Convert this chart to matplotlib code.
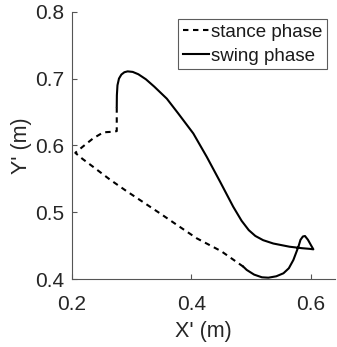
import matplotlib
matplotlib.use('Agg')
import matplotlib.pyplot as plt

plt.rcParams['font.family'] = ['Liberation Sans', 'DejaVu Sans']

# stance phase (dashed)
stance_x = [0.487, 0.450, 0.409, 0.378, 0.3477, 0.320, 0.292, 0.264, 0.236, 0.218,
            0.2060, 0.2120, 0.2195, 0.236, 0.253, 0.268, 0.2753, 0.2753, 0.2753]
stance_y = [0.4188, 0.442, 0.4613, 0.480, 0.4985, 0.515, 0.5316, 0.549, 0.568, 0.580,
            0.5890, 0.5935, 0.599, 0.6108, 0.6197, 0.6205, 0.6215, 0.640, 0.658]

# swing phase (solid)
swing_x = [0.2753, 0.2755, 0.2765, 0.2790, 0.2830, 0.2880, 0.2935, 0.3020, 0.3114, 0.324,
           0.338, 0.359, 0.378, 0.4033, 0.4258, 0.448, 0.470, 0.484, 0.4960, 0.507,
           0.520, 0.537, 0.5642, 0.585, 0.598, 0.604, 0.600, 0.595, 0.590, 0.5865,
           0.5825, 0.579, 0.5706, 0.563, 0.554, 0.542, 0.5288, 0.518, 0.505, 0.4926, 0.487]
swing_y = [0.658, 0.675, 0.690, 0.700, 0.706, 0.7095, 0.7108, 0.7100, 0.7065, 0.699,
           0.688, 0.670, 0.648, 0.618, 0.583, 0.546, 0.5085, 0.4875, 0.4735, 0.4648,
           0.4585, 0.4535, 0.4487, 0.4465, 0.4455, 0.4448, 0.451, 0.459, 0.4647, 0.4640,
           0.459, 0.4487, 0.4289, 0.4165, 0.409, 0.4045, 0.4024, 0.4030, 0.4070, 0.4140, 0.4188]

x_ticks = [0.2, 0.4, 0.6]
y_ticks = [0.4, 0.5, 0.6, 0.7, 0.8]

fig = plt.figure(figsize=(3.37, 3.47), dpi=100)
ax = fig.add_axes([0.2128, 0.1951, 0.7827, 0.7712])

ax.plot(stance_x, stance_y, color='black', lw=1.5, linestyle=(0, (2.6, 2.2)),
        label='stance phase')
ax.plot(swing_x, swing_y, color='black', lw=1.5, label='swing phase')

ax.set_xlim(0.2, 0.641)
ax.set_ylim(0.4, 0.8)
ax.set_xticks(x_ticks)
ax.set_yticks(y_ticks)
ax.set_xticklabels(['0.2', '0.4', '0.6'])
ax.set_yticklabels(['0.4', '0.5', '0.6', '0.7', '0.8'])

for side in ['top', 'right']:
    ax.spines[side].set_visible(False)
for side in ['left', 'bottom']:
    ax.spines[side].set_color('#555555')
    ax.spines[side].set_linewidth(0.8)
ax.tick_params(direction='in', length=3.5, width=0.8, color='#555555',
               labelsize=15, labelcolor='#262626')
ax.tick_params(axis='x', pad=11)
ax.tick_params(axis='y', pad=5.5)

ax.set_xlabel("X' (m)", fontsize=15.5, color='#262626', labelpad=5)
ax.set_ylabel("Y' (m)", fontsize=15.5, color='#262626', labelpad=2)

leg = ax.legend(loc='upper right', bbox_to_anchor=(0.9666, 0.9716), borderaxespad=0,
                fontsize=13.5, frameon=True, fancybox=False, handlelength=1.4,
                handletextpad=0.1, borderpad=0.24, labelspacing=0.35)
leg.get_frame().set_edgecolor('#333333')
leg.get_frame().set_linewidth(0.8)
for t in leg.get_texts():
    t.set_color('#1a1a1a')

plt.savefig('out.png', dpi=100)
